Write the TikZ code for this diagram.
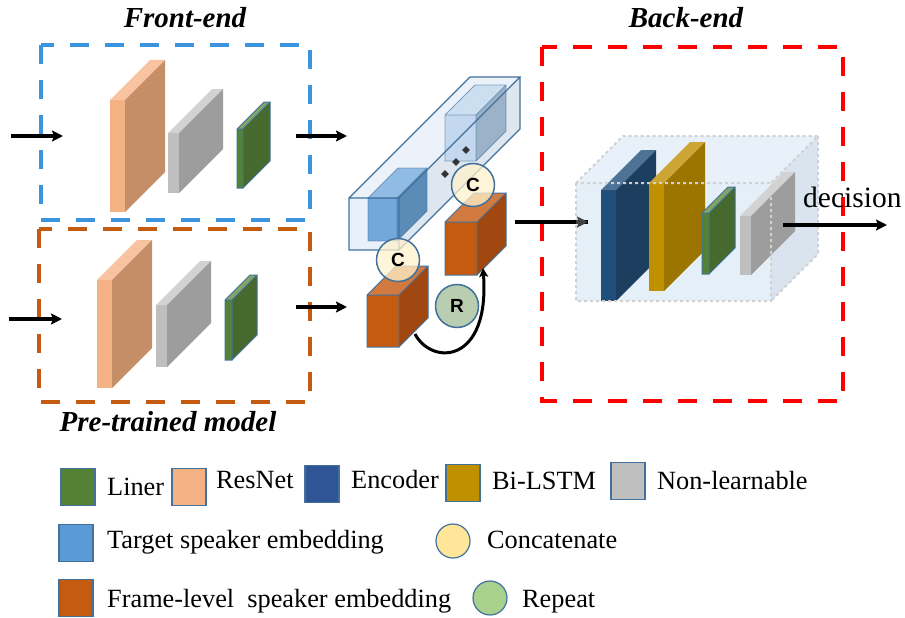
\documentclass[tikz,border=0pt]{standalone}
\usepackage{fontspec}
\setmainfont{Liberation Serif}
\newfontfamily\lettfont{Liberation Sans}
\usetikzlibrary{arrows.meta,shapes.geometric,calc}

\definecolor{resF}{HTML}{F4B183}
\definecolor{resS}{HTML}{C58E67}
\definecolor{resT}{HTML}{F7C3A0}
\definecolor{nlF}{HTML}{BFBFBF}
\definecolor{nlS}{HTML}{9D9D9D}
\definecolor{nlT}{HTML}{D2D2D2}
\definecolor{linF}{HTML}{548235}
\definecolor{linS}{HTML}{466A2D}
\definecolor{linT}{HTML}{82A466}
\definecolor{encF}{HTML}{1F4E79}
\definecolor{encS}{HTML}{1C3F60}
\definecolor{encT}{HTML}{4D7396}
\definecolor{lstF}{HTML}{BF9000}
\definecolor{lstS}{HTML}{9C7500}
\definecolor{lstT}{HTML}{CDA535}
\definecolor{frmF}{HTML}{C55A11}
\definecolor{frmS}{HTML}{A0480F}
\definecolor{frmT}{HTML}{D07A40}
\definecolor{tgtF}{HTML}{72A8DA}
\definecolor{tgtS}{HTML}{5B8CB8}
\definecolor{tgtT}{HTML}{90BCE4}
\definecolor{tgbF}{HTML}{C3D8EE}
\definecolor{tgbS}{HTML}{9BB2C9}
\definecolor{tgbT}{HTML}{CCDFF1}
\definecolor{boxF}{HTML}{E2EDF7}
\definecolor{boxS}{HTML}{D6E1EC}
\definecolor{boxT}{HTML}{E6EFF8}
\definecolor{rim}{HTML}{41719C}
\definecolor{feblue}{HTML}{3C94DC}
\definecolor{ptorange}{HTML}{C55A11}
\definecolor{catY}{HTML}{FFF2CC}
\definecolor{legY}{HTML}{FFE699}
\definecolor{repG}{HTML}{B9CDB0}
\definecolor{legG}{HTML}{A9D18E}
\definecolor{legE}{HTML}{2F5597}
\definecolor{legT}{HTML}{5B9BD5}

% x, y (front top-left), width, height, depth, front, side, top, outline
\newcommand{\cuboid}[9]{%
    \fill[#6] (#1,#2) rectangle ++(#3,#4);
    \fill[#8] (#1,#2) -- ++(#5,-#5) -- ++(#3,0) -- ++(-#5,#5) -- cycle;
    \fill[#7] (#1+#3,#2) -- ++(#5,-#5) -- ++(0,#4) -- ++(-#5,#5) -- cycle;
    \draw[#9] (#1,#2) rectangle ++(#3,#4)
        (#1,#2) -- ++(#5,-#5) -- ++(#3,0) -- ++(-#5,#5)
        (#1+#3+#5,#2-#5) -- ++(0,#4) -- ++(-#5,#5);
}

\begin{document}
\begin{tikzpicture}[
        x=1pt, y=-1pt,
        title/.style={font=\fontsize{29}{34}\selectfont\bfseries\itshape},
        legtext/.style={anchor=base west, inner sep=0pt, font=\fontsize{26.3}{30}\selectfont},
        legbox/.style={draw=rim, line width=1.2pt, minimum width=34pt, minimum height=37pt, inner sep=0pt},
        legdot/.style={circle, draw=rim, line width=1.2pt, minimum size=34pt, inner sep=0pt},
        opdot/.style={circle, draw=rim, line width=1.5pt, fill=catY, fill opacity=0.75, text opacity=1,
            minimum size=43pt, inner sep=0pt, font=\lettfont\bfseries\fontsize{19}{20}\selectfont},
        dashbox/.style={line width=4pt, dash pattern=on 19pt off 16pt},
        flow/.style={line width=3.5pt, -{Stealth[length=11pt,width=11pt,inset=2pt]}},
        gap/.style={fill=black!80, diamond, inner sep=0pt, minimum size=8pt},
        plain/.style={draw=none},
        edged/.style={draw=rim, line width=1pt},
    ]
    \useasboundingbox (0,0) rectangle (905,618);

    % front-end branch
    \node[title] (fe) at (185,18) {Front-end};
    \draw[dashbox, feblue] (41,45) rectangle (310,220);
    \cuboid{110}{100}{15}{112}{40}{resF}{resS}{resT}{plain}
    \cuboid{168}{133}{11}{60}{44}{nlF}{nlS}{nlT}{plain}
    \cuboid{237}{129}{6}{59}{27}{linF}{linS}{linT}{edged}

    % pre-trained branch
    \draw[dashbox, ptorange] (39,229) rectangle (310,402);
    \cuboid{97}{280}{15}{108}{40}{resF}{resS}{resT}{plain}
    \cuboid{156}{305}{11}{62}{44}{nlF}{nlS}{nlT}{plain}
    \cuboid{225}{300}{7}{60}{25}{linF}{linS}{linT}{edged}
    \node[title] (pt) at (168,422) {Pre-trained model};

    % combination of embeddings
    \cuboid{349}{198}{50}{52}{121}{{boxF,fill opacity=0.8}}{{boxS,fill opacity=0.8}}{{boxT,fill opacity=0.8}}{plain}
    \cuboid{368}{198}{29}{43}{30}{tgtF}{tgtS}{tgtT}{{draw=rim,line width=0.8pt,draw opacity=0.6}}
    \cuboid{445}{115}{31}{46}{30}{tgbF}{tgbS}{tgbT}{{draw=rim,line width=0.8pt,draw opacity=0.6}}
    \cuboid{349}{198}{50}{52}{121}{{fill=none}}{{fill=none}}{{fill=none}}{{draw=rim,line width=1.2pt}}
    \node[gap] (g1) at (466,150) {};
    \node[gap] (g2) at (456,162) {};
    \node[gap] (g3) at (445,174) {};
    \cuboid{445}{222}{32}{53}{29}{frmF}{frmS}{frmT}{edged}
    \cuboid{367}{295}{32}{52}{29}{frmF}{frmS}{frmT}{edged}
    \node[opdot] (cat1) at (473,185) {C};
    \node[opdot] (cat2) at (398,260) {C};
    \node[opdot, fill=repG, fill opacity=1] (rep) at (457,306) {R};
    \coordinate (rep out) at (415,334);
    \coordinate (rep in) at (483,268);
    \draw[line width=3pt, -{Stealth[length=9pt,width=9pt,inset=2pt]}]
        (rep out) .. controls (432,366) and (490,364) .. (rep in);

    % back-end
    \node[title] (be) at (686,18) {Back-end};
    \draw[dashbox, red] (542,47) rectangle (843,401);
    \cuboid{576}{183}{195}{118}{47}{{boxF,fill opacity=0.9}}{{boxS,fill opacity=0.9}}{{boxT,fill opacity=0.9}}{plain}
    \cuboid{601}{190}{15}{111}{40}{encF}{encS}{encT}{plain}
    \cuboid{649}{183}{15}{108}{41}{lstF}{lstS}{lstT}{plain}
    \cuboid{702}{213}{7}{61}{26}{linF}{linS}{linT}{edged}
    \cuboid{740}{216}{11}{59}{44}{nlF}{nlS}{nlT}{plain}
    \cuboid{576}{183}{195}{118}{47}{{fill=none}}{{fill=none}}{{fill=none}}{{draw=black!18,line width=2pt,dashed}}
    \node[anchor=base west, inner sep=0pt, font=\fontsize{29.5}{34}\selectfont] (dec) at (803,207) {decision};

    % connectors
    \coordinate (fe in) at (11,136);
    \coordinate (fe l) at (63,136);
    \coordinate (fe out) at (296,136);
    \coordinate (fe r) at (347,136);
    \coordinate (pt in) at (9,319);
    \coordinate (pt l) at (62,319);
    \coordinate (pt out) at (296,307);
    \coordinate (pt r) at (347,307);
    \coordinate (mid out) at (515,222);
    \coordinate (be in) at (588,222);
    \coordinate (be out) at (783,225);
    \coordinate (be end) at (887,225);
    \draw[flow] (fe in) -- (fe l);
    \draw[flow] (fe out) -- (fe r);
    \draw[flow] (pt in) -- (pt l);
    \draw[flow] (pt out) -- (pt r);
    \draw[line width=3.5pt] (mid out) -- (be in);
    \draw[flow, black!75] ($(be in)+(-12,0)$) -- (be in);
    \draw[flow] (be out) -- (be end);

    % legend
    \node[legbox, fill=linF] (lg lin) at (78,487) {};
    \node[legtext] (lt lin) at (107,495) {Liner};
    \node[legbox, fill=resF] (lg res) at (189,487) {};
    \node[legtext] (lt res) at (216,488) {ResNet};
    \node[legbox, fill=legE] (lg enc) at (322,484) {};
    \node[legtext] (lt enc) at (351,488) {Encoder};
    \node[legbox, fill=lstF] (lg lst) at (463,483) {};
    \node[legtext] (lt lst) at (492,489) {Bi-LSTM};
    \node[legbox, fill=nlF] (lg nl) at (628,481) {};
    \node[legtext] (lt nl) at (657,489) {Non-learnable};
    \node[legbox, fill=legT] (lg tgt) at (76,543) {};
    \node[legtext] (lt tgt) at (107,548) {Target speaker embedding};
    \node[legdot, fill=legY] (lg cat) at (453,541) {};
    \node[legtext] (lt cat) at (487,548) {Concatenate};
    \node[legbox, fill=frmF] (lg frm) at (76,598) {};
    \node[legtext] (lt frm) at (107,607) {Frame-level\ \ speaker embedding};
    \node[legdot, fill=legG] (lg rep) at (490,598) {};
    \node[legtext] (lt rep) at (522,607) {Repeat};
\end{tikzpicture}
\end{document}
